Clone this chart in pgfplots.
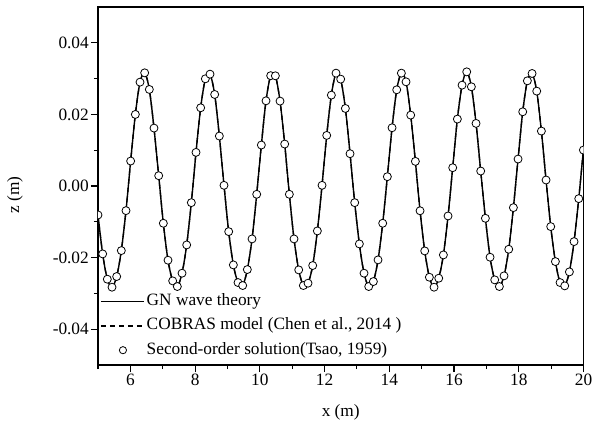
\documentclass[border=0pt]{standalone}
\usepackage{fontspec}
\setmainfont{Liberation Serif}
\usepackage{pgfplots}
\usepackage{pgfplotstable}
\pgfplotsset{compat=1.18}

\pgfplotstableread{
x z
5.000 -0.00809
5.144 -0.01897
5.288 -0.02603
5.433 -0.02827
5.577 -0.02529
5.721 -0.01804
5.865 -0.00688
6.009 0.00697
6.154 0.01999
6.298 0.02901
6.442 0.03161
6.586 0.02697
6.730 0.01618
6.875 0.00288
7.019 -0.01041
7.163 -0.02073
7.307 -0.02650
7.451 -0.02808
7.596 -0.02436
7.740 -0.01646
7.884 -0.00465
8.028 0.00939
8.172 0.02185
8.317 0.02994
8.461 0.03124
8.605 0.02557
8.749 0.01395
8.893 0.00019
9.038 -0.01274
9.182 -0.02204
9.326 -0.02697
9.470 -0.02780
9.614 -0.02334
9.759 -0.01478
9.903 -0.00232
10.047 0.01144
10.191 0.02380
10.335 0.03082
10.480 0.03078
10.624 0.02371
10.768 0.01172
10.912 -0.00232
11.056 -0.01478
11.201 -0.02343
11.345 -0.02780
11.489 -0.02715
11.633 -0.02222
11.777 -0.01255
11.922 0.00019
12.066 0.01413
12.210 0.02538
12.354 0.03152
12.498 0.02985
12.643 0.02166
12.787 0.00902
12.931 -0.00465
13.075 -0.01618
13.219 -0.02436
13.364 -0.02808
13.508 -0.02669
13.652 -0.02064
13.796 -0.01041
13.940 0.00260
14.085 0.01627
14.229 0.02687
14.373 0.03152
14.517 0.02910
14.661 0.01980
14.806 0.00688
14.950 -0.00692
15.094 -0.01813
15.238 -0.02548
15.382 -0.02827
15.527 -0.02576
15.671 -0.01925
15.815 -0.00837
15.959 0.00511
16.103 0.01869
16.248 0.02817
16.392 0.03189
16.536 0.02771
16.680 0.01748
16.824 0.00418
16.969 -0.00902
17.113 -0.01990
17.257 -0.02622
17.401 -0.02808
17.545 -0.02510
17.690 -0.01767
17.834 -0.00604
17.978 0.00753
18.122 0.02073
18.266 0.02938
18.411 0.03143
18.555 0.02650
18.699 0.01534
18.843 0.00167
18.987 -0.01134
19.132 -0.02111
19.276 -0.02697
19.420 -0.02789
19.564 -0.02399
19.708 -0.01553
19.853 -0.00353
19.997 0.01004
}\wavedata

\begin{document}
\begin{tikzpicture}
\begin{axis}[
  scale only axis,
  width=485.5bp, height=358bp,
  xmin=5, xmax=20, ymin=-0.05, ymax=0.05,
  xtick={6,8,...,20},
  minor xtick={5,7,...,19},
  ytick={-0.04,-0.02,0,0.02,0.04},
  yticklabels={-0.04,-0.02,0.00,0.02,0.04},
  minor ytick={-0.03,-0.01,0.01,0.03},
  scaled y ticks=false,
  xtick pos=bottom, ytick pos=left,
  tick align=outside,
  major tick length=7bp, minor tick length=4bp,
  every tick/.style={black, line width=1.1bp},
  axis line style={line width=1.3bp},
  /pgf/number format/assume math mode=true,
  tick label style={font=\fontsize{17.3bp}{20bp}\selectfont},
  xticklabel style={inner sep=1.5bp},
  yticklabel style={inner sep=2bp},
  label style={font=\fontsize{17.3bp}{20bp}\selectfont},
  xlabel={x (m)}, ylabel={z (m)},
  xlabel style={at={(axis description cs:0.5,-0.131)}, anchor=center},
  ylabel style={at={(axis description cs:-0.171,0.475)}, anchor=center, rotate=0},
  clip marker paths=true,
  legend style={at={(axis description cs:0.004,0.014)}, anchor=south west,
    draw=none, fill=none, inner sep=0pt, row sep=5.2bp,
    font=\fontsize{17.3bp}{20bp}\selectfont,
    nodes={inner sep=2bp, text height=11.5bp, text depth=3.7bp}},
  legend cell align=left,
]
\addplot[black, line width=1.4bp, smooth,
  legend image code/.code={\draw[black, line width=1.6bp] (0bp,0bp) -- (43bp,0bp);}]
  table[x=x, y=z] {\wavedata};
\addlegendentry{GN wave theory}
\addplot[black, line width=1.3bp, smooth, dash pattern=on 5bp off 4bp,
  legend image code/.code={\draw[black, line width=1.5bp, dash pattern=on 5bp off 4bp] (0bp,0bp) -- (43bp,0bp);}]
  table[x=x, y=z] {\wavedata};
\addlegendentry{COBRAS model (Chen et al., 2014 )}
\addplot[only marks, mark=*, mark size=4bp,
  mark options={fill=white, draw=black, line width=0.8bp},
  legend image code/.code={\draw[mark=*, mark size=3.6bp, mark options={fill=white, draw=black, line width=0.8bp}] plot coordinates {(22bp,0bp)};}]
  table[x=x, y=z] {\wavedata};
\addlegendentry{Second-order solution(Tsao, 1959)}
\coordinate (ll) at (rel axis cs:0,0);
\coordinate (ur) at (rel axis cs:1,1);
\end{axis}
\pgfresetboundingbox
\path[use as bounding box] ([shift={(-98bp,-63bp)}]ll) rectangle ([shift={(8.5bp,7bp)}]ur);
\end{tikzpicture}
\end{document}
